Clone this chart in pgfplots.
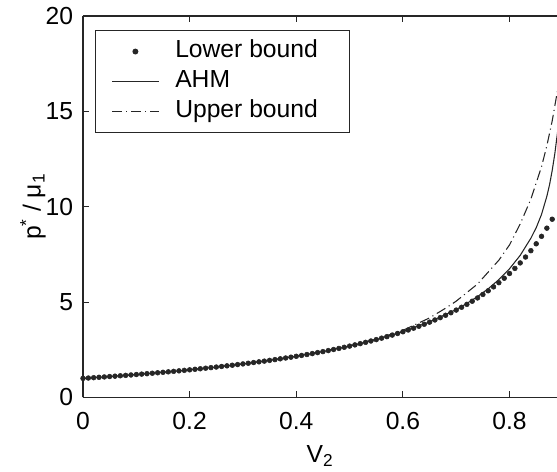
\documentclass[border=0pt]{standalone}
\usepackage{pgfplots}
\pgfplotsset{compat=1.18}
\usepackage{fontspec}
\setmainfont{Liberation Sans}
\pgfplotstableread{
x y
0.00 1.0000
0.01 1.0185
0.02 1.0374
0.03 1.0566
0.04 1.0761
0.05 1.0961
0.06 1.1164
0.07 1.1371
0.08 1.1583
0.09 1.1798
0.10 1.2018
0.11 1.2243
0.12 1.2472
0.13 1.2706
0.14 1.2945
0.15 1.3188
0.16 1.3438
0.17 1.3692
0.18 1.3952
0.19 1.4218
0.20 1.4490
0.21 1.4768
0.22 1.5052
0.23 1.5343
0.24 1.5641
0.25 1.5946
0.26 1.6258
0.27 1.6578
0.28 1.6906
0.29 1.7242
0.30 1.7586
0.31 1.7939
0.32 1.8302
0.33 1.8674
0.34 1.9056
0.35 1.9448
0.36 1.9851
0.37 2.0265
0.38 2.0691
0.39 2.1128
0.40 2.1579
0.41 2.2043
0.42 2.2520
0.43 2.3012
0.44 2.3520
0.45 2.4043
0.46 2.4582
0.47 2.5139
0.48 2.5714
0.49 2.6309
0.50 2.6923
0.51 2.7559
0.52 2.8217
0.53 2.8898
0.54 2.9604
0.55 3.0336
0.56 3.1096
0.57 3.1885
0.58 3.2705
0.59 3.3557
0.60 3.4444
0.61 3.5369
0.62 3.6332
0.63 3.7337
0.64 3.8387
0.65 3.9485
0.66 4.0633
0.67 4.1836
0.68 4.3097
0.69 4.4422
0.70 4.5814
0.71 4.7279
0.72 4.8824
0.73 5.0453
0.74 5.2176
0.75 5.4000
0.76 5.5934
0.77 5.7989
0.78 6.0175
0.79 6.2508
0.80 6.5000
0.81 6.7670
0.82 7.0537
0.83 7.3624
0.84 7.6957
0.85 8.0566
0.86 8.4488
0.87 8.8765
0.88 9.3448
0.89 9.8597
}\lowerbound
\pgfplotstableread{
x y
0.00 1.000
0.05 1.096
0.10 1.202
0.15 1.319
0.20 1.449
0.25 1.595
0.30 1.759
0.35 1.945
0.40 2.158
0.45 2.404
0.50 2.692
0.55 3.036
0.60 3.450
0.65 3.960
0.70 4.610
0.72 4.930
0.74 5.290
0.76 5.700
0.78 6.180
0.80 6.750
0.82 7.450
0.84 8.350
0.85 8.900
0.86 9.600
0.87 10.55
0.875 11.15
0.88 11.90
0.885 12.80
0.89 13.90
0.895 15.30
0.90 17.10
}\ahm
\pgfplotstableread{
x y
0.00 1.000
0.10 1.202
0.20 1.449
0.30 1.759
0.40 2.158
0.50 2.700
0.55 3.060
0.60 3.520
0.65 4.170
0.68 4.680
0.70 5.050
0.74 5.950
0.78 7.200
0.80 8.000
0.82 9.100
0.84 10.40
0.86 12.10
0.87 13.20
0.88 14.50
0.89 16.10
0.90 18.10
0.91 20.50
}\upperbound
\begin{document}
\fontsize{18.5}{22}\selectfont
\begin{tikzpicture}
\begin{axis}[
  name=ax,
  scale only axis,
  width=355.5pt, height=286.1pt,
  xmin=0, xmax=0.889, ymin=0, ymax=20,
  axis x line*=box, axis y line*=left,
  x axis line style={-}, y axis line style={-},
  axis line style={black!85, line width=0.9pt},
  xtick={0,0.2,0.4,0.6,0.8},
  xticklabels={0,0.2,0.4,0.6,0.8},
  ytick={0,5,10,15,20},
  yticklabels={0,5,10,15,20},
  tick align=inside,
  major tick length=4.5pt,
  tick style={black!85, line width=0.8pt},
  /pgf/number format/assume math mode=true,
  xticklabel style={anchor=north, yshift=-5pt},
  yticklabel style={anchor=east, xshift=-1pt},
  every axis x label/.style={at={(axis description cs:0.5,0)}, anchor=center, yshift=-44pt},
  every axis y label/.style={at={(axis description cs:0,0.5)}, rotate=90, anchor=center, yshift=37.5pt},
  xlabel={V\textsubscript{2}},
  ylabel={p\textsuperscript{*} / μ\textsubscript{1}},
  legend image code/.code={\draw[mark repeat=2,mark phase=2,#1] plot coordinates {(0pt,0pt) (17.5pt,0pt) (35pt,0pt)};},
  legend style={at={(0.0253,0.9633)}, anchor=north west, draw=black!85, line width=0.8pt,
    fill=white, inner xsep=12pt, inner ysep=4.5pt, cells={anchor=west},
    nodes={text height=13.5pt, text depth=4pt, inner ysep=2.5pt, inner xsep=12pt}},
]
\addplot[only marks, mark=*, mark size=1.8pt, black!85] table {\lowerbound};
\addlegendentry{Lower bound}
\addplot[black!85, line width=0.8pt] table {\ahm};
\addlegendentry{AHM}
\addplot[black!85, line width=0.8pt, dash pattern=on 7.5pt off 3pt on 0.8pt off 3pt] table {\upperbound};
\addlegendentry{Upper bound}
\end{axis}
\pgfresetboundingbox
\useasboundingbox ([shift={(-62.25pt,-55.875pt)}]ax.south west) rectangle ([shift={(0pt,12pt)}]ax.north east);
\end{tikzpicture}
\end{document}
